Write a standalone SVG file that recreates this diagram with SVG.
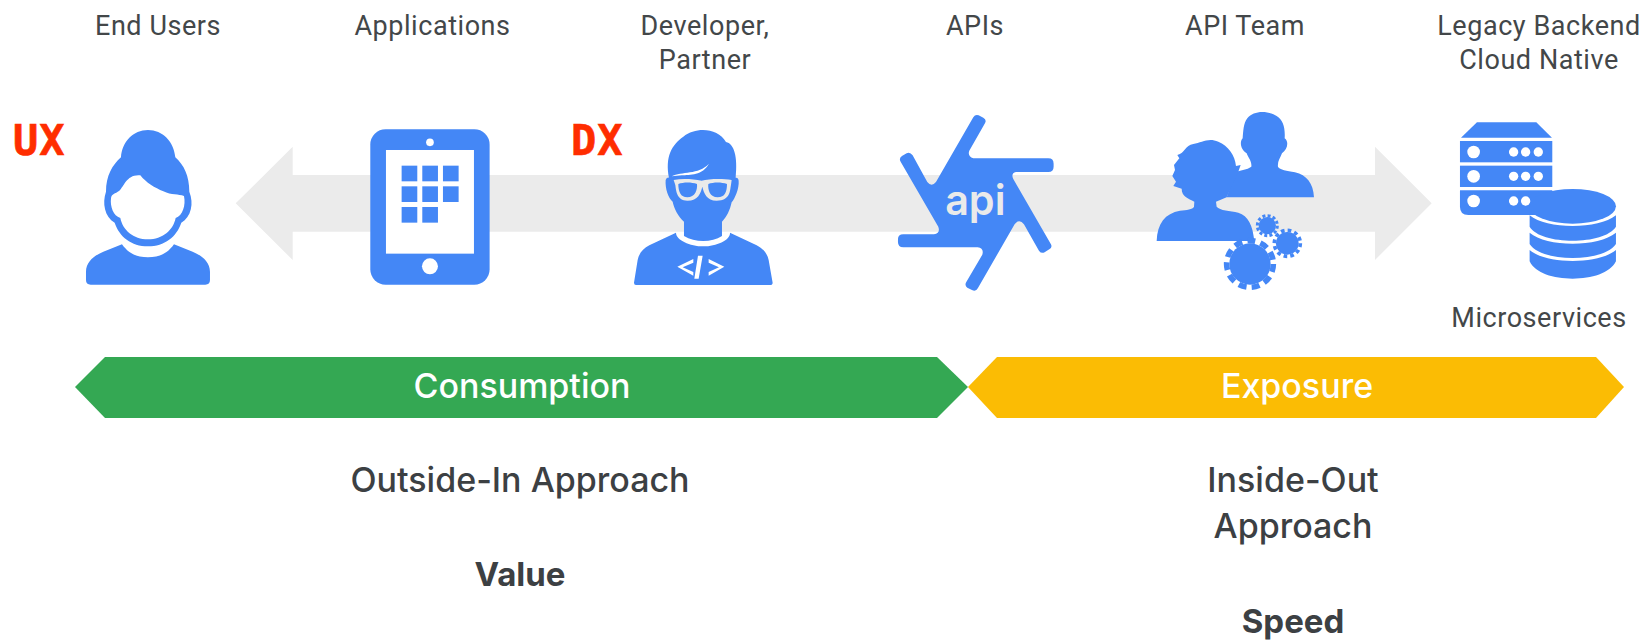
<svg xmlns="http://www.w3.org/2000/svg" width="1646" height="642" viewBox="0 0 1646 642">
<style>
text{font-family:Roboto,"Liberation Sans",sans-serif;text-anchor:middle;fill:#434749}
.l{font-size:27px;letter-spacing:.55px}
.h{font-family:Inter,Roboto,sans-serif;font-size:34px;font-weight:500;fill:#3c4043}
.b{font-family:Inter,Roboto,sans-serif;font-size:33px;font-weight:700;fill:#3c4043}
.w{font-family:Inter,Roboto,sans-serif;font-size:34px;font-weight:500;fill:#fff}
.x{font-family:"DejaVu Sans Mono",monospace;font-size:42px;font-weight:700;fill:#ff2d00;text-anchor:start;stroke:#ff2d00;stroke-width:.6;letter-spacing:1px}
.i{fill:#4487f6}
.k{fill:#fff}
.g{fill:#ebebeb}
.lg{fill:#eaeaea}
</style>
<rect width="1646" height="642" fill="#fff"/>
<g id="connectors">
<path class="g" d="M235.700 203.300L292.700 146.700V175H1375V146.700L1431.700 203.300L1375 260V231.700H292.700V260Z"/>
</g>
<g id="end-users">
<text class="l" x="158" y="34.500">End Users</text>
<text class="x" x="13" y="155">UX</text>
<g transform="translate(0 90) scale(.3333)">
<path class="i" d="M258 545C258 515 285 495 310 485L366 463C385 490 410 502 444 502C478 502 503 490 522 463L578 485C603 495 630 515 630 545V570Q630 584 616 584H272Q258 584 258 570Z"/>
<path class="i" d="M363 202C366 155 400 120 444 120C488 120 522 155 526 202C552 225 568 258 568 305C582 340 574 380 544 398C530 440 494 469 444 469C394 469 358 440 344 398C314 380 306 340 318 305C318 258 337 225 363 202Z"/>
<path class="k" d="M421 256C380 252 372 290 358 302C345 312 335 310 333 325C330 350 340 378 361 384C368 420 400 448 444 448C488 448 520 420 527 384C548 378 558 345 552 318C535 312 515 316 490 304C465 294 438 278 421 256Z"/>
</g>
</g>
<g id="applications">
<text class="l" x="432.500" y="34.500">Applications</text>
<g transform="translate(0 90) scale(.3333)">
<rect class="i" x="1111" y="118" width="358" height="466" rx="46"/>
<rect class="k" x="1158" y="180" width="264" height="311"/>
<circle class="k" cx="1290" cy="157" r="11.500"/>
<circle class="k" cx="1290" cy="529" r="24"/>
<g class="i">
<rect x="1205" y="227" width="47" height="47"/><rect x="1267" y="227" width="47" height="47"/><rect x="1329" y="227" width="47" height="47"/>
<rect x="1205" y="289" width="47" height="47"/><rect x="1267" y="289" width="47" height="47"/><rect x="1329" y="289" width="47" height="47"/>
<rect x="1205" y="351" width="47" height="47"/><rect x="1267" y="351" width="47" height="47"/>
</g>
</g>
</g>
<g id="developer-partner">
<text class="l" x="705" y="34.500">Developer,</text>
<text class="l" x="705" y="68.500">Partner</text>
<text class="x" x="571" y="155">DX</text>
<g transform="translate(550 90) scale(.3333)">
<path class="i" d="M252 578L263 510C267 490 280 475 298 466L378 428C378 450 420 469 460 469C500 469 542 450 540 428L620 466C638 475 652 490 656 510L668 578Q668 585 660 585H258Q252 585 252 578Z"/>
<path class="i" d="M402 395C385 380 372 355 368 335C355 325 345 295 347 270Q350 262 357 263C345 200 365 165 400 140C440 108 505 115 528 156C552 160 564 200 557 263Q565 262 566 272C568 295 555 325 545 337C540 360 530 382 516 395V438C485 458 435 458 402 438Z"/>
<path class="k" d="M365 259C395 243 445 255 477 221C458 256 420 254 395 256C385 257 375 258 365 259Z"/>
<path class="lg" fill-rule="evenodd" d="M371 270C400 265 430 268 455 272C475 267 515 265 545 270L543 285C540 300 542 332 500 332C470 332 462 310 457 290C452 310 445 332 412 332C380 332 378 300 376 285ZM385 282C385 305 392 322 412 322C435 322 443 300 441 282C425 276 400 276 385 282ZM475 282C473 300 480 322 503 322C525 322 531 305 531 282C515 276 490 276 475 282Z"/>
<path class="k" d="M382 530L430 507V518L398 532L430 546V557ZM523 530L476 507V518L507 532L476 546V557ZM444 497H458L446 566H433Z"/>
</g>
</g>
<g id="apis">
<text class="l" x="975" y="34.500">APIs</text>
<g transform="translate(550 90) scale(.3333)">
<path class="i" d="M1270 82Q1276 72 1286 76L1300 83Q1311 90 1305 100L1258 182Q1252 198 1270 205H1495Q1511 205 1511 221V230Q1511 246 1495 246H1398Q1382 250 1390 267L1503 463Q1508 472 1498 478L1484 487Q1474 492 1467 482L1422 403Q1408 385 1394 403L1284 594Q1278 606 1266 600L1252 593Q1243 586 1249 576L1297 494Q1303 475 1283 472H1060Q1044 472 1044 456V448Q1044 433 1060 433H1152Q1172 430 1165 410L1052 215Q1046 205 1056 198L1070 190Q1080 185 1088 196L1132 276Q1145 292 1158 276Z"/>
<text x="1276" y="375" style="font-family:Inter,sans-serif;font-size:124px;font-weight:600;fill:#eaeaea">api</text>
</g>
</g>
<g id="api-team">
<text class="l" x="1245" y="34.500">API Team</text>
<g transform="translate(1130 90) scale(.3333)">
<path class="i" d="M290 322H552C550 280 530 255 495 247C470 242 450 240 444 230C442 215 450 205 456 190C472 180 478 155 464 145C466 115 460 90 440 78C410 60 370 62 352 85C340 100 340 125 338 145C328 155 332 180 350 190C356 205 366 215 364 230C350 240 335 240 318 245Z"/>
<path class="i" d="M80 453C82 400 105 370 150 362C170 360 188 358 192 350L193 335C175 325 155 320 155 296L130 288L138 275L127 258L135 240L132 225L148 205L142 195C165 190 165 165 190 162C215 158 235 142 265 155C295 168 315 195 318 228L332 225L325 245L290 322L258 335L260 350C270 362 300 362 325 368C355 378 368 405 373 453Z"/>
<circle class="i" cx="360" cy="522" r="62"/>
<circle cx="360" cy="522" r="70" fill="none" stroke="#4487f6" stroke-width="17" stroke-dasharray="24 15.980"/>
<circle class="i" cx="412" cy="407" r="26"/>
<circle cx="412" cy="407" r="30" fill="none" stroke="#4487f6" stroke-width="9" stroke-dasharray="9 6.700"/>
<circle class="i" cx="472" cy="460" r="34"/>
<circle cx="472" cy="460" r="39" fill="none" stroke="#4487f6" stroke-width="11" stroke-dasharray="11 9.400"/>
</g>
</g>
<g id="legacy-backend">
<text class="l" x="1539" y="34.500">Legacy Backend</text>
<text class="l" x="1539" y="68.500">Cloud Native</text>
<text class="l" x="1539" y="327">Microservices</text>
<g transform="translate(1130 90) scale(.3333)">
<path class="i" d="M1041 97H1219L1266 143H993Z"/>
<rect class="i" x="990" y="153" width="277" height="64"/>
<rect class="i" x="990" y="227" width="277" height="64"/>
<path class="i" d="M990 301H1267V375H1015Q990 375 990 350Z"/>
<g class="k">
<circle cx="1031" cy="186" r="19"/><circle cx="1151" cy="186" r="14"/><circle cx="1187" cy="186" r="14"/><circle cx="1225" cy="186" r="14"/>
<circle cx="1031" cy="259" r="19"/><circle cx="1151" cy="259" r="14"/><circle cx="1187" cy="259" r="14"/><circle cx="1225" cy="259" r="14"/>
<circle cx="1031" cy="333" r="19"/><circle cx="1151" cy="333" r="14"/><circle cx="1187" cy="333" r="14"/>
</g>
<ellipse class="i" cx="1328" cy="349" rx="130" ry="52"/>
<path class="i" d="M1199 376C1225 398 1275 408 1328 408C1381 408 1431 398 1458 376V410C1440 438 1385 452 1328 452C1271 452 1216 438 1199 410Z"/>
<path class="i" d="M1199 428C1225 450 1275 461 1328 461C1381 461 1431 450 1458 428V462C1440 490 1385 504 1328 504C1271 504 1216 490 1199 462Z"/>
<path class="i" d="M1199 480C1225 502 1275 513 1328 513C1381 513 1431 502 1458 480V514C1440 550 1385 566 1328 566C1271 566 1216 550 1199 514Z"/>
</g>
</g>
<g id="consumption">
<path fill="#34a853" d="M75 387L105 357H937L968 387L937 418H105Z"/>
<text class="w" x="522" y="398">Consumption</text>
</g>
<g id="exposure">
<path fill="#fbbc04" d="M968 387L997 357H1596L1624 387L1596 418H997Z"/>
<text class="w" x="1297" y="398">Exposure</text>
</g>
<g id="outside-in">
<text class="h" x="520" y="492">Outside-In Approach</text>
<text class="b" x="520" y="586">Value</text>
</g>
<g id="inside-out">
<text class="h" x="1293" y="492">Inside-Out</text>
<text class="h" x="1293" y="538">Approach</text>
<text class="b" x="1293" y="633">Speed</text>
</g>
</svg>
